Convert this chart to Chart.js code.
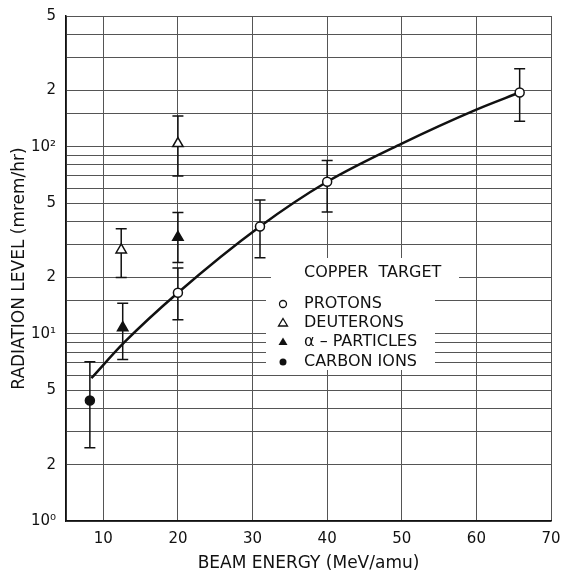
<!DOCTYPE html>
<html>
<head>
<meta charset="utf-8">
<script src="https://cdn.jsdelivr.net/npm/chart.js@4"></script>
<style>
  html, body { margin: 0; padding: 0; background: #fff; }
  #wrap { width: 563px; height: 574px; }
</style>
</head>
<body>
<div id="wrap"><canvas id="radChart" width="563" height="574"></canvas></div>
<script>
// values (x = MeV/amu, y = mrem/hr)
const protonE = [20, 31, 40, 65.8];
const protonDose = [16.6, 37.5, 65, 195];
const protonLow = [11.9, 25.5, 44.8, 137];
const protonHigh = [22.5, 52, 84.4, 261];

const deuteronE = [12.4, 20];
const deuteronDose = [28.1, 104];
const deuteronLow = [20, 69.7];
const deuteronHigh = [36.5, 146];

const alphaE = [12.6, 20];
const alphaDose = [10.8, 32.8];
const alphaLow = [7.3, 24.1];
const alphaHigh = [14.6, 44.6];

const carbonE = [8.2];
const carbonDose = [4.41];
const carbonLow = [2.46];
const carbonHigh = [7.1];

// hand-drawn fit curve through the proton points
const curveE = [8.4, 12.8, 20, 31, 40, 50, 60, 65.8];
const curveDose = [5.8, 9.0, 16.6, 37.5, 65, 104, 158, 195];

const xTicks = [5, 10, 20, 30, 40, 50, 60, 70];
const yTickValues = [1, 2, 5, 10, 20, 50, 100, 200, 500];
const yTickLabels = ['10\u2070', '2', '5', '10\u00b9', '2', '5', '10\u00b2', '2', '5'];
const legendNames = ['PROTONS', 'DEUTERONS', '\u03b1 \u2013 PARTICLES', 'CARBON IONS'];
const legendTitle = 'COPPER  TARGET';

const FONT = "'DejaVu Sans', sans-serif";

function pts(xs, ys) {
  return xs.map((x, i) => ({ x: x, y: ys[i] }));
}

const errSets = [
  { xs: protonE, lo: protonLow, hi: protonHigh },
  { xs: deuteronE, lo: deuteronLow, hi: deuteronHigh },
  { xs: alphaE, lo: alphaLow, hi: alphaHigh },
  { xs: carbonE, lo: carbonLow, hi: carbonHigh }
];

const errorBars = {
  id: 'errorBars',
  beforeDatasetsDraw(chart) {
    const ctx = chart.ctx, xs = chart.scales.x, ys = chart.scales.y;
    ctx.save();
    ctx.strokeStyle = '#111';
    ctx.lineWidth = 1.5;
    errSets.forEach(s => {
      s.xs.forEach((x, i) => {
        const px = xs.getPixelForValue(x);
        const top = ys.getPixelForValue(s.hi[i]);
        const bot = ys.getPixelForValue(s.lo[i]);
        ctx.beginPath();
        ctx.moveTo(px, top); ctx.lineTo(px, bot);
        ctx.moveTo(px - 5.5, top); ctx.lineTo(px + 5.5, top);
        ctx.moveTo(px - 5.5, bot); ctx.lineTo(px + 5.5, bot);
        ctx.stroke();
      });
    });
    ctx.restore();
  }
};

// legend box sits on the grid with a white backing
const legendBox = {
  id: 'legendBox',
  afterDatasetsDraw(chart) {
    const ctx = chart.ctx;
    ctx.save();
    ctx.fillStyle = '#fff';
    ctx.fillRect(271, 258, 188, 34);
    ctx.fillRect(266, 292, 169, 78);
    ctx.fillStyle = '#111';
    ctx.font = '16px ' + FONT;
    ctx.textBaseline = 'middle';
    ctx.fillText(legendTitle, 304, 273);
    const rowY = [304, 323, 342, 362];
    const mx = 283;
    ctx.strokeStyle = '#111';
    ctx.lineWidth = 1.3;
    legendNames.forEach((name, i) => {
      const y = rowY[i];
      ctx.fillStyle = '#111';
      ctx.fillText(name, 304, y);
      ctx.beginPath();
      if (i === 0 || i === 3) {
        ctx.arc(mx, y, 3.5, 0, Math.PI * 2);
      } else {
        ctx.moveTo(mx, y - 4.5);
        ctx.lineTo(mx + 4.5, y + 3);
        ctx.lineTo(mx - 4.5, y + 3);
        ctx.closePath();
      }
      if (i >= 2) { ctx.fill(); } else { ctx.fillStyle = '#fff'; ctx.fill(); ctx.stroke(); }
    });
    ctx.restore();
  }
};

const ptStyle = (style, fill) => ({
  showLine: false,
  pointStyle: style,
  pointRadius: style === 'triangle' ? 6 : 4.5,
  pointBackgroundColor: fill,
  pointBorderColor: '#111',
  pointBorderWidth: 1.5,
  order: 1
});

new Chart(document.getElementById('radChart'), {
  type: 'scatter',
  data: {
    datasets: [
      Object.assign({ label: 'PROTONS', data: pts(protonE, protonDose) }, ptStyle('circle', '#fff')),
      Object.assign({ label: 'DEUTERONS', data: pts(deuteronE, deuteronDose) }, ptStyle('triangle', '#fff')),
      Object.assign({ label: 'ALPHA', data: pts(alphaE, alphaDose) }, ptStyle('triangle', '#111')),
      Object.assign({ label: 'CARBON IONS', data: pts(carbonE, carbonDose) }, ptStyle('circle', '#111')),
      {
        label: 'fit',
        type: 'line',
        data: pts(curveE, curveDose),
        borderColor: '#111',
        borderWidth: 2.5,
        pointRadius: 0,
        fill: false,
        cubicInterpolationMode: 'monotone',
        order: 5
      }
    ]
  },
  options: {
    responsive: false,
    animation: false,
    layout: { padding: { top: 16, right: 12, left: 0, bottom: 0 } },
    plugins: { legend: { display: false }, tooltip: { enabled: false } },
    scales: {
      x: {
        type: 'linear',
        min: 5, max: 70,
        afterBuildTicks(scale) { scale.ticks = xTicks.map(v => ({ value: v })); },
        afterFit(scale) {
          scale.height = 53;
          scale.paddingLeft = 0;
          scale.paddingRight = 0;
        },
        grid: { color: '#555', lineWidth: 1, drawTicks: false },
        border: { color: '#111', width: 1.5 },
        ticks: {
          padding: 9,
          color: '#111',
          font: { family: FONT, size: 15 },
          maxRotation: 0,
          callback: v => (v === 5 ? '' : String(v))
        },
        title: {
          display: true,
          text: 'BEAM ENERGY (MeV/amu)',
          color: '#111',
          font: { family: FONT, size: 17 },
          padding: { top: 0, bottom: 0 }
        }
      },
      y: {
        type: 'logarithmic',
        min: 1, max: 500,
        afterFit(scale) {
          scale.width = 66;
          scale.paddingTop = 0;
          scale.paddingBottom = 0;
        },
        grid: { color: '#555', lineWidth: 1, drawTicks: false },
        border: { color: '#111', width: 1.5 },
        ticks: {
          padding: 10,
          color: '#111',
          font: { family: FONT, size: 15 },
          autoSkip: false,
          callback: function (v) {
            const k = yTickValues.indexOf(Math.round(v * 1000) / 1000);
            return k >= 0 ? yTickLabels[k] : '';
          }
        },
        title: {
          display: true,
          text: 'RADIATION LEVEL (mrem/hr)',
          color: '#111',
          font: { family: FONT, size: 17 },
          padding: { top: 9, bottom: 0 }
        }
      }
    }
  },
  plugins: [errorBars, legendBox]
});
</script>
</body>
</html>
